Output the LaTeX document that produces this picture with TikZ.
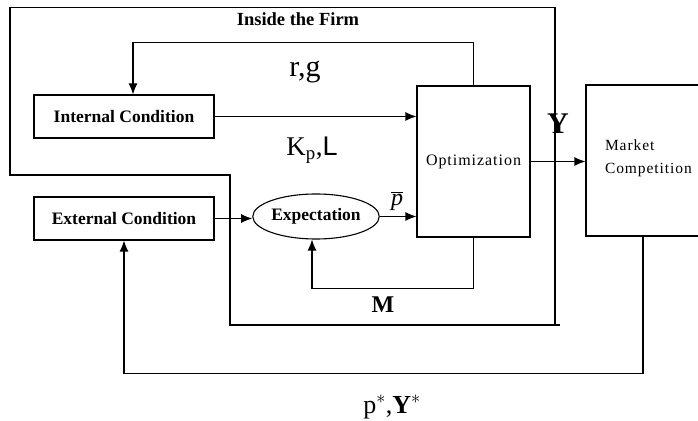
\RequirePackage{fix-cm}
\documentclass[tikz,border=0pt]{standalone}
\usepackage{fontspec}
\setmainfont{Liberation Serif}
\setsansfont{Liberation Sans}
\newfontfamily\spacedfont[LetterSpace=6]{Liberation Serif}
\usepackage{tikz}
\usetikzlibrary{arrows.meta,shapes.geometric,calc}

\begin{document}
\begin{tikzpicture}[x=1pt, y=1pt, line width=1.1pt,
    box/.style={draw, rectangle, inner sep=0pt, font=\fontsize{17.5}{20}\selectfont\bfseries},
    oval/.style={draw, ellipse, inner sep=0pt, font=\fontsize{17.5}{20}\selectfont\bfseries},
    flow/.style={-{Latex[length=11pt, width=9pt]}},
    lbl/.style={inner sep=0pt, font=\fontsize{27}{30}\selectfont}]
  \useasboundingbox (0,0) rectangle (698,420);
  % firm boundary
  \draw (560,95) -- (230,95) -- (230,245) -- (10,245) -- (10,412.5) -- (555,412.5) -- (555,95);
  \node[inner sep=0pt, font=\fontsize{18.5}{20}\selectfont\bfseries] (firm) at (298,401) {Inside the Firm};

  \node[box, minimum width=180, minimum height=43] (int) at (124,303.5) {Internal Condition};
  \node[box, minimum width=180, minimum height=43] (ext) at (124,201.5) {External Condition};
  \node[oval, minimum width=122, minimum height=45] (exp) at (316,203.5) {Expectation};
  \node[box, minimum width=113, minimum height=151, font=\fontsize{16}{18}\spacedfont] (opt) at (473.5,258.5) {Optimization};
  \node[box, minimum height=151, inner xsep=19pt, text width=96pt, align=left,
    font=\fontsize{15.5}{23}\spacedfont] (mkt) at (653,259.5) {Market\\Competition\vspace{5pt}};

  \draw[flow] (int.east) -- (int.east -| opt.west);
  \draw[flow] (ext.east) -- (ext.east -| exp.west);
  \draw[flow] (exp.east) -- (exp.east -| opt.west);
  \draw[flow] (opt.east) -- (opt.east -| mkt.west);
  \draw[flow] (opt.north) -- ++(0,43) -| ([xshift=9pt]int.north);
  \draw[flow] (opt.south) -- ++(0,-51) -| ([xshift=-4pt]exp.south);
  \draw[flow] ([xshift=-10pt]mkt.south) -- ++(0,-137) -| (ext.south);

  \node[lbl, font=\fontsize{30}{32}\selectfont] (rg) at (305,348) {r,g};
  \node[lbl] (kl) at (312,270) {K\textsubscript{p},\textsf{L}};
  \node[lbl, font=\fontsize{24}{26}\selectfont] (pbar) at (397,219) {$\overline{\mbox{\itshape p}}$};
  \node[lbl, font=\fontsize{30}{32}\selectfont\bfseries] (y) at (558,296) {Y};
  \node[lbl, font=\fontsize{24}{26}\selectfont\bfseries] (m) at (383,115) {M};
  \node[lbl, font=\fontsize{26}{28}\selectfont] (pystar) at (392,13) {p$^*$,\textbf{Y}$^*$};
\end{tikzpicture}
\end{document}
